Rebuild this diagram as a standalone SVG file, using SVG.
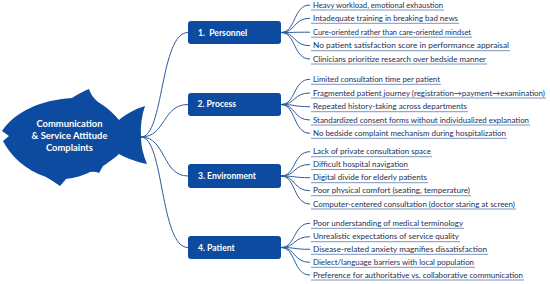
<svg xmlns="http://www.w3.org/2000/svg" width="550" height="284" viewBox="0 0 550 284">
<style>
.fish{fill:#0c4b9f}
.box{fill:#0c4b9f}
.ft{font-family:Lato,"Liberation Sans",sans-serif;font-weight:bold;font-size:9.4px;fill:#fff;text-anchor:middle}
.bt{font-family:Lato,"Liberation Sans",sans-serif;font-weight:bold;font-size:8.6px;fill:#fff}
.lt{font-family:Lato,"Liberation Sans",sans-serif;font-size:7.6px;fill:#1c2f55}
.ul{stroke:#5a78ad;stroke-width:0.8;fill:none}
.c{stroke:#2d5a9a;stroke-width:1;fill:none}
</style>
<rect width="550" height="284" fill="#fff"/>
<g id="connectors">
<path class="c" d="M141,137 C164,137 160,32.5 188,32.5"/>
<path class="c" d="M141,137 C166,137 162,104.5 188,104.5"/>
<path class="c" d="M141,137 C166,137 162,176 188,176"/>
<path class="c" d="M141,137 C164,137 160,247.5 188,247.5"/>
<path class="c" d="M281,32.5 C296,32.5 293,5 310,5 M281,32.5 C296,32.5 293,18.3 310,18.3 M281,32.5 C296,32.5 293,32.2 310,32.2 M281,32.5 C296,32.5 293,45.7 310,45.7 M281,32.5 C296,32.5 293,59 310,59"/>
<path class="c" d="M281,104.5 C296,104.5 293,79.3 310,79.3 M281,104.5 C296,104.5 293,93 310,93 M281,104.5 C296,104.5 293,106.7 310,106.7 M281,104.5 C296,104.5 293,120 310,120 M281,104.5 C296,104.5 293,133.3 310,133.3"/>
<path class="c" d="M281,176 C296,176 293,151.7 310,151.7 M281,176 C296,176 293,164.5 310,164.5 M281,176 C296,176 293,177.7 310,177.7 M281,176 C296,176 293,190.7 310,190.7 M281,176 C296,176 293,204 310,204"/>
<path class="c" d="M281,247.5 C296,247.5 293,223.3 310,223.3 M281,247.5 C296,247.5 293,236.7 310,236.7 M281,247.5 C296,247.5 293,249.3 310,249.3 M281,247.5 C296,247.5 293,262.3 310,262.3 M281,247.5 C296,247.5 293,275 310,275"/>
</g>
<g id="fish">
<path class="fish" d="M2,131 C15,112 40,100 72,98 C80,93 84,91 89,89 Q91,96 98,102 C108,108 114,114 119,120 C126,114 135,109 145,106 Q140,120 141,137 Q141,150 147,164 C137,162 126,158 119,154 C112,160 106,164 103,166 L99,173 Q95,171 90,172 C80,177 72,178 66,179 L60,186 Q53,181 46,177 C25,170 10,155 3,141 L9,136 Z"/>
<text class="ft" x="69.5" y="127">Communication</text>
<text class="ft" x="69.5" y="139">&amp; Service Attitude</text>
<text class="ft" x="69.5" y="150.5">Complaints</text>
</g>
<g id="personnel">
<rect class="box" x="188" y="21" width="93" height="23" rx="3"/>
<text class="bt" x="198" y="35.5" xml:space="preserve">1.  Personnel</text>
<text class="lt" x="313" y="7.7" textLength="130" lengthAdjust="spacingAndGlyphs">Heavy workload, emotional exhaustion</text>
<text class="lt" x="313" y="21" textLength="145" lengthAdjust="spacingAndGlyphs">Intadequate training in breaking bad news</text>
<text class="lt" x="313" y="34.9" textLength="158" lengthAdjust="spacingAndGlyphs">Cure-oriented rather than care-oriented mindset</text>
<text class="lt" x="313" y="48.4" textLength="196" lengthAdjust="spacingAndGlyphs">No patient satisfaction score in performance appraisal</text>
<text class="lt" x="313" y="61.7" textLength="173" lengthAdjust="spacingAndGlyphs">Clinicians prioritize research over bedside manner</text>
<path class="ul" d="M311,10 H444 M311,23.3 H459 M311,37.2 H472 M311,50.7 H510 M311,64 H487"/>
</g>
<g id="process">
<rect class="box" x="188" y="93" width="93" height="23" rx="3"/>
<text class="bt" x="197.5" y="107.3">2. Process</text>
<text class="lt" x="313" y="82" textLength="127" lengthAdjust="spacingAndGlyphs">Limited consultation time per patient</text>
<text class="lt" x="313" y="95.7" textLength="232" lengthAdjust="spacingAndGlyphs">Fragmented patient journey (registration→payment→examination)</text>
<text class="lt" x="313" y="109.4" textLength="154" lengthAdjust="spacingAndGlyphs">Repeated history-taking across departments</text>
<text class="lt" x="313" y="122.7" textLength="216" lengthAdjust="spacingAndGlyphs">Standardized consent forms without individualized explanation</text>
<text class="lt" x="313" y="136" textLength="193" lengthAdjust="spacingAndGlyphs">No bedside complaint mechanism during hospitalization</text>
<path class="ul" d="M311,84.3 H441 M311,98 H546 M311,111.7 H468 M311,125 H530 M311,138.3 H507"/>
</g>
<g id="environment">
<rect class="box" x="188" y="164" width="93" height="24" rx="3"/>
<text class="bt" x="198" y="179">3. Environment</text>
<text class="lt" x="313" y="154.4" textLength="118" lengthAdjust="spacingAndGlyphs">Lack of private consultation space</text>
<text class="lt" x="313" y="167.2" textLength="95" lengthAdjust="spacingAndGlyphs">Difficult hospital navigation</text>
<text class="lt" x="313" y="180.4" textLength="114" lengthAdjust="spacingAndGlyphs">Digital divide for elderly patients</text>
<text class="lt" x="313" y="193.4" textLength="157" lengthAdjust="spacingAndGlyphs">Poor physical comfort (seating, temperature)</text>
<text class="lt" x="313" y="206.7" textLength="202" lengthAdjust="spacingAndGlyphs">Computer-centered consultation (doctor staring at screen)</text>
<path class="ul" d="M311,156.7 H432 M311,169.5 H409 M311,182.7 H428 M311,195.7 H471 M311,209 H516"/>
</g>
<g id="patient">
<rect class="box" x="188" y="236" width="93" height="23" rx="3"/>
<text class="bt" x="198" y="250.7">4. Patient</text>
<text class="lt" x="313" y="226" textLength="150" lengthAdjust="spacingAndGlyphs">Poor understanding of medical terminology</text>
<text class="lt" x="313" y="239.4" textLength="146" lengthAdjust="spacingAndGlyphs">Unrealistic expectations of service quality</text>
<text class="lt" x="313" y="252" textLength="174" lengthAdjust="spacingAndGlyphs">Disease-related anxiety magnifies dissatisfaction</text>
<text class="lt" x="313" y="265" textLength="161" lengthAdjust="spacingAndGlyphs">Dielect/language barriers with local population</text>
<text class="lt" x="313" y="277.7" textLength="210" lengthAdjust="spacingAndGlyphs">Preference for authoritative vs. collaborative communication</text>
<path class="ul" d="M311,228.3 H464 M311,241.7 H460 M311,254.3 H488 M311,267.3 H475 M311,280 H524"/>
</g>
</svg>
